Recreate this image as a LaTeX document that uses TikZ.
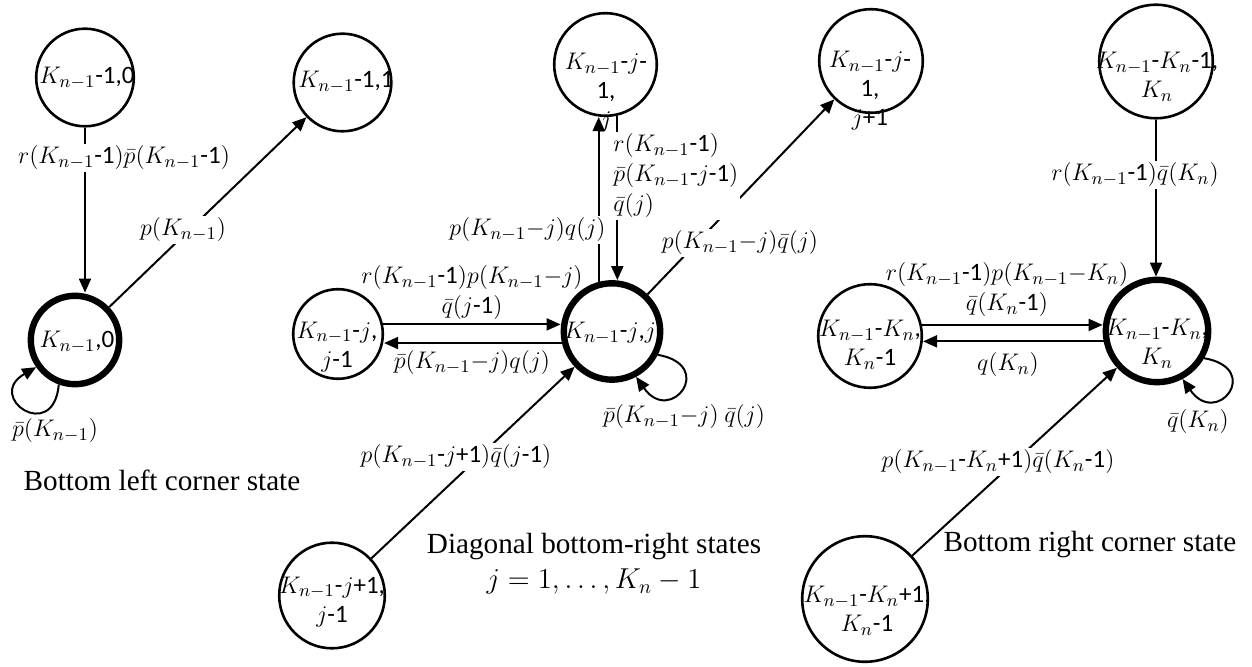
\documentclass[tikz,border=0pt]{standalone}
\usepackage{amsmath}
\usepackage{fontspec}
\setmainfont{Liberation Serif}
\newfontfamily\calib{Carlito}
\usetikzlibrary{arrows.meta}
\begin{document}
\begin{tikzpicture}[x=0.5pt,y=0.5pt,
  st/.style={circle,draw,line width=1.3pt,inner sep=0pt},
  thk/.style={line width=3.2pt},
  tx/.style={font=\calib\fontsize{12.5}{14.5}\selectfont,align=center,inner sep=0pt},
  lb/.style={font=\calib\fontsize{12.5}{15}\selectfont,fill=white,inner sep=1pt,align=center},
  captxt/.style={font=\fontsize{14.6}{17.5}\selectfont,align=center,inner sep=0pt},
  arr/.style={line width=1pt,-{Triangle[length=7pt,width=6pt]}},
  ln/.style={line width=1pt}]
\useasboundingbox (0,0) rectangle (1252,667);

% state texts
\node[tx] (At) at (87,589) {$K_{n-1}$-1,0};
\node[tx] (Bt) at (77,325) {$K_{n-1}$,0};
\node[tx] (Ct) at (346,585) {$K_{n-1}$-1,1};
\node[tx] (Dt) at (606,574) {$K_{n-1}$-$j$-\\1,\\$j$};
\node[tx] (Et) at (610,334) {$K_{n-1}$-$j$,$j$};
\node[tx] (Ft) at (337,320) {$K_{n-1}$-$j$,\\$j$-1};
\node[tx] (Gt) at (332,65) {$K_{n-1}$-$j$+1,\\$j$-1};
\node[tx] (Ht) at (870,576) {$K_{n-1}$-$j$-\\1,\\$j$+1};
\node[tx] (It) at (1157,590) {$K_{n-1}$-$K_n$-1,\\$K_n$};
\node[tx] (Jt) at (1157,323) {$K_{n-1}$-$K_n$,\\$K_n$};
\node[tx] (Kt) at (870,322) {$K_{n-1}$-$K_n$,\\$K_n$-1};
\node[tx] (Lt) at (867,56) {$K_{n-1}$-$K_n$+1,\\$K_n$-1};

% states
\node[st,minimum size=48.8pt] (A) at (85,589.5) {};
\node[st,thk,minimum size=44.2pt] (B) at (75,327) {};
\node[st,minimum size=48.8pt] (C) at (342.5,584.5) {};
\node[st,minimum size=51.3pt] (D) at (605.5,602.5) {};
\node[st,thk,minimum size=48.2pt] (E) at (612,335.5) {};
\node[st,minimum size=44.8pt] (F) at (338,333) {};
\node[st,minimum size=52.8pt] (G) at (332,71.5) {};
\node[st,minimum size=51.8pt] (H) at (871,606) {};
\node[st,minimum size=56.8pt] (I) at (1156,605.5) {};
\node[st,thk,minimum size=51.2pt] (J) at (1157,336) {};
\node[st,minimum size=51.8pt] (K) at (870,331) {};
\node[st,minimum size=62.8pt] (L) at (865,68) {};

% connectors
\draw[arr] (A.south) -- (A.south |- B.north);
\draw[arr] (B) -- (C);
\draw[arr] (B.250) .. controls +(265:60) and +(210:60) .. (B.215);

\draw[arr] (E.105) -- (E.105 |- D.south);
\draw[arr] (D.283) -- (D.283 |- E.north);
\draw[arr] (F.12) -- (F.12 -| E.west);
\draw[arr] (E.193) -- (E.193 -| F.east);
\draw[arr] (E.-27) .. controls +(-10:60) and +(-55:60) .. (E.-62);
\draw[arr] (G) -- (E);
\draw[arr] (E) -- (H);

\draw[arr] (I.south) -- (I.south |- J.north);
\draw[arr] (K.12) -- (K.12 -| J.west);
\draw[arr] (J.191) -- (J.191 -| K.east);
\draw[arr] (J.-30) .. controls +(-10:60) and +(-55:60) .. (J.-62);
\draw[arr] (L) -- (J);

% labels
\node[lb] (l1) at (124,509) {$r(K_{n-1}\text{-1})\bar{p}(K_{n-1}\text{-1})$};
\node[lb] (l2) at (183,437) {$p(K_{n-1})$};
\node[lb,fill=none] (l3) at (55,236) {$\bar{p}(K_{n-1})$};
\node[lb,anchor=east] (l4) at (608,437) {$p(K_{n-1}{-}j)q(j)$};
\node[lb,anchor=west,align=left] (l5) at (611,491) {$r(K_{n-1}\text{-1})$\\$\bar{p}(K_{n-1}\text{-}j\text{-1})$\\$\bar{q}(j)$};
\node[lb] (l6) at (740,424) {$p(K_{n-1}{-}j)\bar{q}(j)$};
\node[lb,fill=none] (l7) at (472,374) {$r(K_{n-1}\text{-1})p(K_{n-1}{-}j)$\\$\bar{q}(j\text{-1})$};
\node[lb,fill=none] (l8) at (472,304) {$\bar{p}(K_{n-1}{-}j)q(j)$};
\node[lb,fill=none] (l9) at (684,250) {$\bar{p}(K_{n-1}{-}j)\ \bar{q}(j)$};
\node[lb] (l10) at (456,210) {$p(K_{n-1}\text{-}j\text{+1})\bar{q}(j\text{-1})$};
\node[lb] (l11) at (1135,492) {$r(K_{n-1}\text{-1})\bar{q}(K_n)$};
\node[lb,fill=none] (l12) at (1007,377) {$r(K_{n-1}\text{-1})p(K_{n-1}{-}K_n)$\\$\bar{q}(K_n\text{-1})$};
\node[lb,fill=none] (l13) at (1008,302) {$q(K_n)$};
\node[lb,fill=none] (l14) at (1198,245) {$\bar{q}(K_n)$};
\node[lb] (l15) at (998,205) {$p(K_{n-1}\text{-}K_n\text{+1})\bar{q}(K_n\text{-1})$};

% captions
\node[captxt] (c1) at (162,187) {Bottom left corner state};
\node[captxt] (c2) at (594,103) {Diagonal bottom-right states\\$j=1,\ldots,K_n-1$};
\node[captxt] (c3) at (1090,122) {Bottom right corner state};
\end{tikzpicture}
\end{document}
